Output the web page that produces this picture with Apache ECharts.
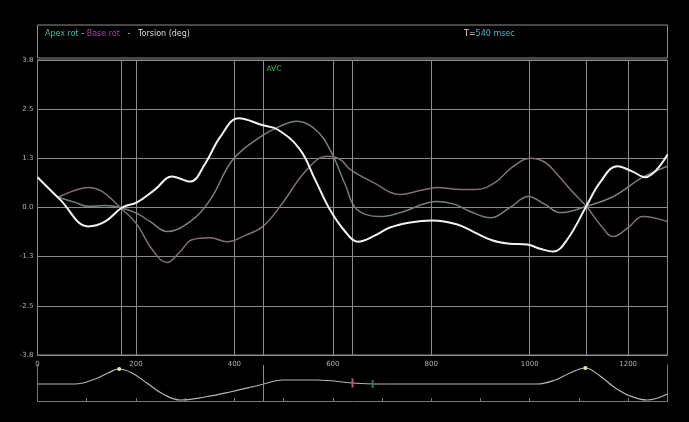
<!DOCTYPE html>
<html>
<head>
<meta charset="utf-8">
<script src="https://cdn.jsdelivr.net/npm/echarts@6/dist/echarts.min.js"></script>
<style>
  html, body { margin: 0; padding: 0; background: #000; }
  #chart { width: 689px; height: 422px; }
</style>
</head>
<body>
<div id="chart"></div>
<script>
// time axis in msec, rotation in degrees
const torsionT = [0, 46, 103, 137, 172, 202, 239, 273, 310, 340, 371, 409, 458, 487, 533, 564, 594, 625, 651, 686, 716, 757, 802, 853, 889, 925, 960, 995, 1021, 1048, 1076, 1115, 1143, 1178, 1208, 1234, 1280]
const torsionV = [0.77, 0.20, -0.48, -0.36, 0, 0.13, 0.46, 0.79, 0.66, 1.10, 1.79, 2.27, 2.09, 1.99, 1.48, 0.71, -0.05, -0.61, -0.87, -0.71, -0.51, -0.38, -0.33, -0.43, -0.64, -0.84, -0.92, -0.94, -1.05, -1.12, -0.82, 0.03, 0.64, 1.05, 0.92, 0.77, 1.35]

const apexT = [42, 76, 103, 137, 168, 202, 229, 263, 310, 351, 397, 452, 493, 527, 564, 594, 625, 649, 696, 737, 812, 848, 879, 920, 960, 997, 1031, 1062, 1115, 1170, 1230, 1280]
const apexV = [0.26, 0.13, 0.03, 0.05, 0, -0.15, -0.36, -0.61, -0.36, 0.20, 1.22, 1.79, 2.07, 2.19, 1.99, 1.48, 0.59, -0.05, -0.23, -0.13, 0.15, 0.08, -0.10, -0.26, 0, 0.28, 0.08, -0.13, 0.03, 0.28, 0.77, 1.05]

const baseT = [42, 70, 103, 131, 168, 202, 233, 263, 290, 314, 351, 385, 422, 458, 493, 548, 588, 615, 635, 682, 737, 777, 812, 859, 893, 930, 964, 1001, 1031, 1056, 1086, 1115, 1143, 1170, 1200, 1230, 1280]
const baseV = [0.26, 0.41, 0.51, 0.41, 0, -0.43, -1.07, -1.40, -1.12, -0.82, -0.77, -0.87, -0.71, -0.48, 0.03, 0.97, 1.30, 1.22, 0.97, 0.64, 0.33, 0.43, 0.51, 0.46, 0.46, 0.64, 1.02, 1.25, 1.15, 0.84, 0.41, 0.03, -0.43, -0.74, -0.51, -0.23, -0.36]

// lower trace (arbitrary units)
const traceT = [0, 76, 117, 143, 166, 192, 222, 255, 290, 340, 391, 452, 499, 568, 641, 696, 1015, 1052, 1082, 1113, 1143, 1174, 1204, 1238, 1280]
const traceV = [17, 17, 22, 28, 32, 28, 18, 7, 1, 4, 9, 16, 21, 21, 18, 17, 17, 21, 28, 33, 25, 13, 5, 1, 7]
const tracePeaks = [4, 19]

const eventTimes = [170, 458, 640, 1115]
const avcTime = 458
const xTicks = [0, 1280]
const yTicks = [-3.75, 3.75]

const gridCol = '#8c8c8c'
const chart = echarts.init(document.getElementById('chart'))

const zip = (a, b) => a.map((t, i) => [t, b[i]])

chart.setOption({
  backgroundColor: '#000',
  animation: false,
  textStyle: { fontFamily: 'DejaVu Sans' },
  title: [
    {
      left: 40, top: 25,
      text: '{a|Apex rot}{w| - }{b|Base rot}{w|   -   Torsion (deg)}',
      textStyle: {
        fontWeight: 'normal',
        rich: {
          a: { color: '#3fb8a6', fontSize: 8 },
          b: { color: '#b03ca8', fontSize: 8 },
          w: { color: '#dddddd', fontSize: 8 }
        }
      }
    },
    {
      left: 459, top: 25,
      text: '{w|T=}{c|540 msec}',
      textStyle: {
        fontWeight: 'normal',
        rich: {
          w: { color: '#dddddd', fontSize: 8 },
          c: { color: '#4ab4c4', fontSize: 8 }
        }
      }
    }
  ],
  grid: [
    { left: 37.5, right: 21.5, top: 60, bottom: 67, show: true, borderColor: gridCol, borderWidth: 1 },
    { left: 37.5, right: 21.5, top: 365, bottom: 21 },
    { left: 37.5, right: 21.5, top: 25, bottom: 364, show: true, borderColor: gridCol, borderWidth: 1 }
  ],
  xAxis: [
    {
      gridIndex: 0, type: 'value', min: xTicks[0], max: xTicks[1], interval: 200, offset: 4,
      axisLine: { show: true, lineStyle: { color: gridCol } },
      axisTick: { show: true, inside: true, length: 4, lineStyle: { color: gridCol } },
      axisLabel: { color: '#b0b0b0', fontSize: 7, margin: 2, showMaxLabel: false, formatter: v => String(v) },
      splitLine: { show: true, lineStyle: { color: gridCol, width: 1 } }
    },
    {
      gridIndex: 1, type: 'value', min: xTicks[0], max: xTicks[1], interval: 100,
      axisLine: { show: true, lineStyle: { color: '#777' } },
      axisTick: { show: true, inside: true, length: 3, lineStyle: { color: '#777' } },
      axisLabel: { show: false },
      splitLine: { show: false }
    },
    { gridIndex: 2, type: 'value', show: false, min: 0, max: 1 }
  ],
  yAxis: [
    {
      gridIndex: 0, type: 'value', min: yTicks[0], max: yTicks[1], interval: 1.25,
      axisLine: { show: true, lineStyle: { color: gridCol } },
      axisTick: { show: false },
      axisLabel: { color: '#b0b0b0', fontSize: 7, margin: 4, formatter: v => v.toFixed(1) },
      splitLine: { show: true, lineStyle: { color: gridCol, width: 1 } }
    },
    {
      gridIndex: 1, type: 'value', min: 0, max: 36,
      axisLine: { show: true, lineStyle: { color: '#777' } },
      axisTick: { show: false }, axisLabel: { show: false }, splitLine: { show: false }
    },
    {
      gridIndex: 1, type: 'value', position: 'right', min: 0, max: 36,
      axisLine: { show: true, lineStyle: { color: '#777' } },
      axisTick: { show: false }, axisLabel: { show: false }, splitLine: { show: false }
    },
    { gridIndex: 2, type: 'value', show: false, min: 0, max: 1 }
  ],
  series: [
    {
      name: 'Apex rot', type: 'line', xAxisIndex: 0, yAxisIndex: 0,
      data: zip(apexT, apexV), smooth: 0.4, showSymbol: false,
      lineStyle: { color: '#72827a', width: 1.5 }, z: 3
    },
    {
      name: 'Base rot', type: 'line', xAxisIndex: 0, yAxisIndex: 0,
      data: zip(baseT, baseV), smooth: 0.4, showSymbol: false,
      lineStyle: { color: '#826e78', width: 1.5 }, z: 3
    },
    {
      name: 'Torsion', type: 'line', xAxisIndex: 0, yAxisIndex: 0,
      data: zip(torsionT, torsionV), smooth: 0.4, showSymbol: false,
      lineStyle: { color: '#f2f2f2', width: 2 }, z: 5,
      markLine: {
        silent: true, symbol: 'none', label: { show: false },
        lineStyle: { color: gridCol, width: 1, type: 'solid' },
        data: eventTimes.map(t => ({ xAxis: t }))
      },
      markPoint: {
        silent: true, symbol: 'circle', symbolSize: 0,
        label: { show: true, formatter: 'AVC', color: '#3fc04a', fontSize: 7.5, position: 'bottom', distance: 5, offset: [11, 0] },
        data: [{ coord: [avcTime, yTicks[1]] }]
      }
    },
    {
      name: 'Trace', type: 'line', xAxisIndex: 1, yAxisIndex: 1,
      data: zip(traceT, traceV), smooth: 0.4, showSymbol: false,
      lineStyle: { color: '#b5b5b5', width: 1.2 },
      markLine: {
        silent: true, symbol: 'none', label: { show: false },
        lineStyle: { color: '#888', width: 1, type: 'solid' },
        data: [{ xAxis: avcTime }]
      },
      markPoint: {
        silent: true, label: { show: false },
        data: [
          ...tracePeaks.map(i => ({ coord: [traceT[i], traceV[i]], symbol: 'circle', symbolSize: 4, itemStyle: { color: '#eee6a0' } })),
          { coord: [eventTimes[2], traceV[14]], symbol: 'rect', symbolSize: [2, 9], itemStyle: { color: '#c0507e' } },
          { coord: [681, traceV[15]], symbol: 'rect', symbolSize: [2, 8], itemStyle: { color: '#2f7a48' } }
        ]
      }
    }
  ]
})
</script>
</body>
</html>
